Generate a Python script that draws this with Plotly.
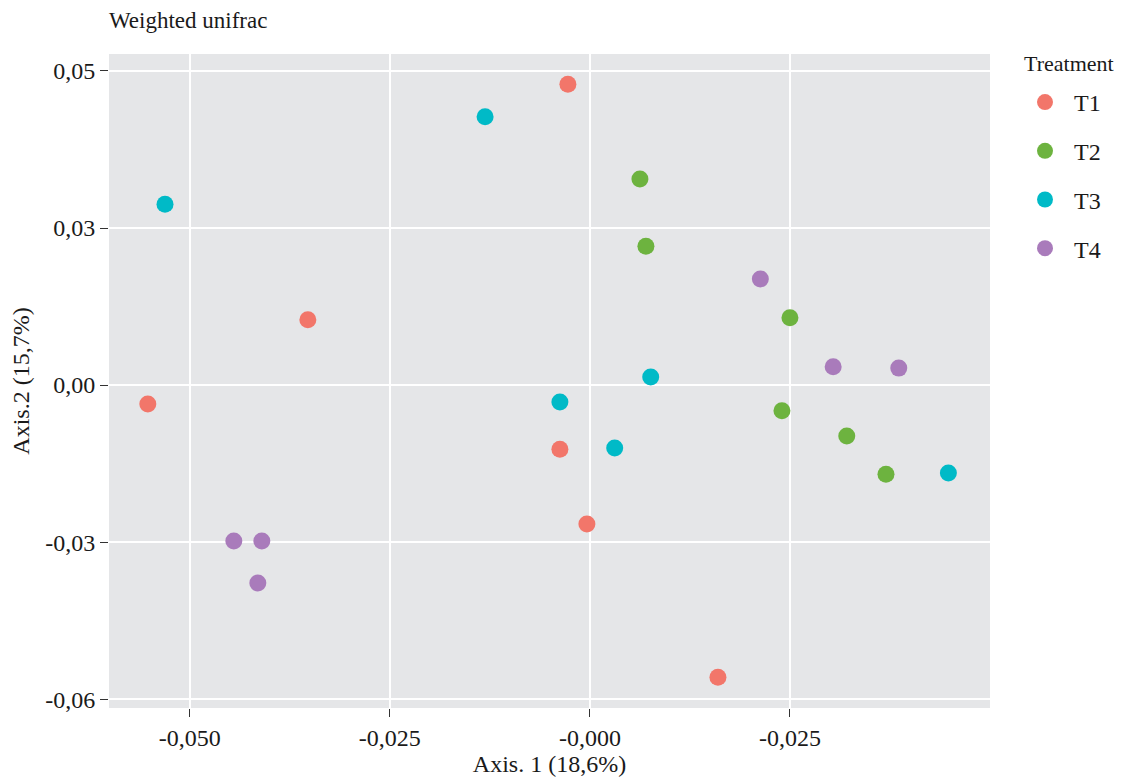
import plotly.graph_objects as go

groups = ["T1", "T2", "T3", "T4"]
colors = ["#F2766A", "#6DB33F", "#00BAC7", "#A97BBB"]

t1_x = [-0.00275, -0.03525, -0.05525, -0.00375, -0.000375, 0.016]
t1_y = [0.0479, 0.0104, -0.0030, -0.0102, -0.0221, -0.0465]
t2_x = [0.00625, 0.007, 0.025, 0.024, 0.0321, 0.037]
t2_y = [0.0328, 0.0221, 0.0107, -0.0041, -0.0081, -0.0142]
t3_x = [-0.0131, -0.0531, 0.0076, -0.00375, 0.0031, 0.0448]
t3_y = [0.0427, 0.0288, 0.0013, -0.0027, -0.0100, -0.0140]
t4_x = [0.0213, 0.0304, 0.0386, -0.0445, -0.041, -0.0415]
t4_y = [0.0169, 0.0029, 0.0027, -0.0248, -0.0248, -0.0315]

xs = [t1_x, t2_x, t3_x, t4_x]
ys = [t1_y, t2_y, t3_y, t4_y]

x_tickvals = [-0.05, -0.025, 0.0, 0.025]
x_ticktext = ["-0,050", "-0,025", "-0,000", "-0,025"]
y_tickvals = [0.05, 0.025, 0.0, -0.025, -0.05]
y_ticktext = ["0,05", "0,03", "0,00", "-0,03", "-0,06"]

font_family = "Liberation Serif"
txt = "#1a1a1a"

fig = go.Figure()
for g, c, x, y in zip(groups, colors, xs, ys):
    fig.add_trace(go.Scatter(
        x=x, y=y, mode="markers", name=g, legendgroup=g,
        marker=dict(color=c, size=17, line=dict(width=0)),
    ))

W, H = 1125, 779
ml, mr, mt, mb = 101, 143, 46, 79
pw, ph = W - ml - mr, H - mt - mb

fig.update_layout(
    width=W, height=H,
    margin=dict(l=ml, r=mr, t=mt, b=mb, autoexpand=False),
    paper_bgcolor="white",
    plot_bgcolor="#E5E6E8",
    font=dict(family=font_family, size=24, color=txt),
    title=dict(text="Weighted unifrac", x=ml / W, xref="container", xanchor="left",
               y=1 - 12 / H, yref="container", yanchor="middle",
               font=dict(family=font_family, size=23, color=txt)),
    legend=dict(
        x=(1008 - ml) / pw, xanchor="left",
        y=(H - mb - 72) / ph, yanchor="top",
        font=dict(size=24), tracegroupgap=14.5, itemwidth=48,
        bgcolor="rgba(0,0,0,0)",
    ),
    showlegend=True,
    annotations=[dict(
        text="Treatment", x=(1014 - ml) / pw, xref="paper", xanchor="left",
        y=(H - mb - 56) / ph, yref="paper", yanchor="middle",
        showarrow=False, font=dict(size=22, color=txt),
    )],
)

fig.update_xaxes(
    range=[-0.0601, 0.0500],
    tickvals=x_tickvals, ticktext=x_ticktext,
    showgrid=True, gridcolor="white", gridwidth=2,
    zeroline=False, showline=False,
    ticks="outside", ticklen=8, tickcolor="#333333", tickwidth=1.2,
    title=dict(text="Axis. 1 (18,6%)", standoff=3, font=dict(size=24)),
    tickfont=dict(size=24, color=txt),
)
fig.update_yaxes(
    range=[-0.0514, 0.0527],
    tickvals=y_tickvals, ticktext=y_ticktext,
    showgrid=True, gridcolor="white", gridwidth=2,
    zeroline=False, showline=False,
    ticks="outside", ticklen=8, tickcolor="#333333", tickwidth=1.2,
    title=dict(text="Axis.2 (15,7%)", standoff=10, font=dict(size=24)),
    tickfont=dict(size=24, color=txt),
)

fig.write_html("out.html")
